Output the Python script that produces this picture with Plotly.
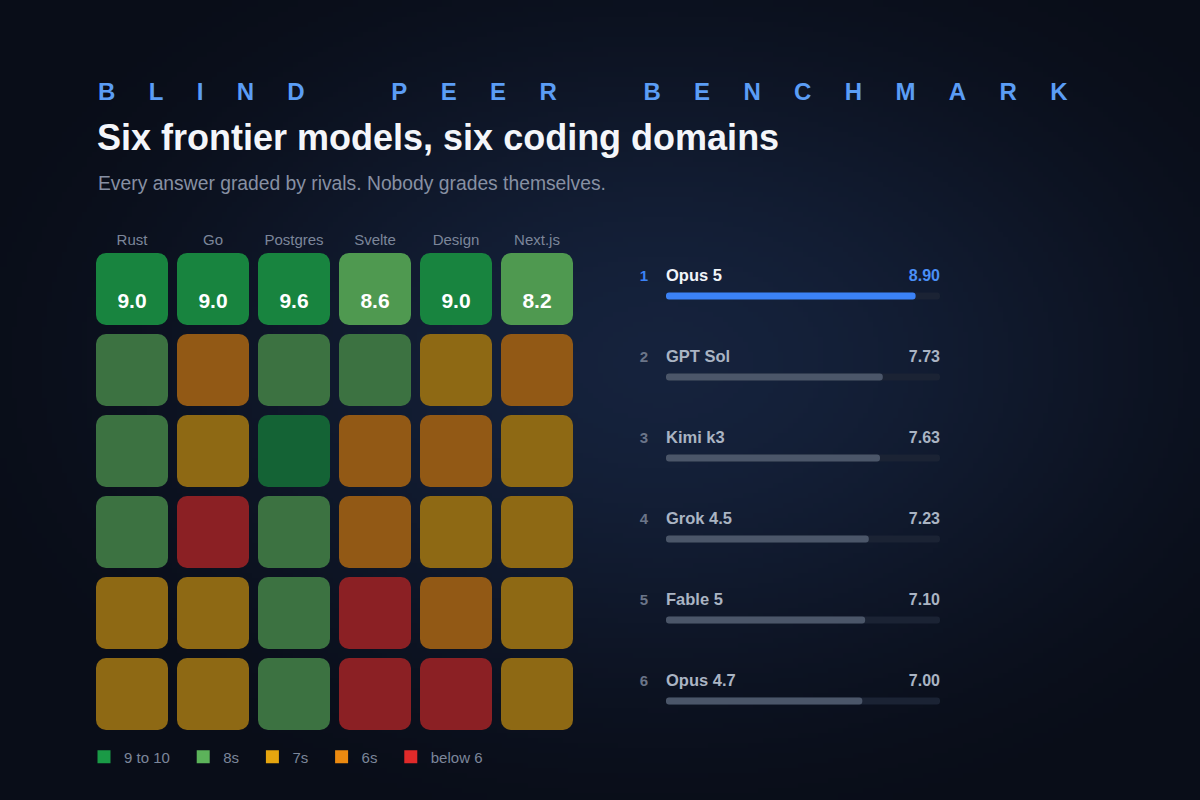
import base64
import struct
import zlib
import plotly.graph_objects as go

# ---------------- data ----------------
DOMAINS = ["Rust", "Go", "Postgres", "Svelte", "Design", "Next.js"]
MODELS = ["Opus 5", "GPT Sol", "Kimi k3", "Grok 4.5", "Fable 5", "Opus 4.7"]
SCORES_OPUS5 = [9.0, 9.0, 9.6, 8.6, 9.0, 8.2]
SCORES_GPTSOL = [8.4, 6.8, 8.6, 8.2, 7.6, 6.8]
SCORES_KIMI = [8.2, 7.4, 9.2, 6.8, 6.6, 7.6]
SCORES_GROK = [8.4, 5.4, 8.2, 6.6, 7.4, 7.4]
SCORES_FABLE = [7.6, 7.4, 8.4, 5.6, 6.6, 7.0]
SCORES_OPUS47 = [7.8, 7.6, 8.6, 5.4, 5.2, 7.4]
SCORES = [SCORES_OPUS5, SCORES_GPTSOL, SCORES_KIMI, SCORES_GROK, SCORES_FABLE, SCORES_OPUS47]
AVERAGES = [8.90, 7.73, 7.63, 7.23, 7.10, 7.00]
RANKS = [1, 2, 3, 4, 5, 6]
BAND_LABELS = ["9 to 10", "8s", "7s", "6s", "below 6"]
BAND_FLOORS = [9, 8, 7, 6, 0]
SCALE_MAX = 9.77

# ---------------- style ----------------
FONT = "Liberation Sans, Arial, Helvetica, sans-serif"
BAND_COLORS = ["#1a9a46", "#5cb35a", "#e5a50f", "#ec8a10", "#e02a2a"]
BG = (12, 16, 28)
MUTED = "#7c869a"


def band(v):
    for i, f in enumerate(BAND_FLOORS):
        if v >= f:
            return i
    return len(BAND_FLOORS) - 1


def blend(hexc, a, bg=BG):
    h = hexc.lstrip("#")
    c = [int(h[i:i + 2], 16) for i in (0, 2, 4)]
    m = [round(b + (x - b) * a) for x, b in zip(c, bg)]
    return "#%02x%02x%02x" % tuple(m)


def make_bg(w=240, h=160):
    edge = (9, 13, 24)
    center = (21, 34, 60)
    cx, cy = 0.55, 0.45
    rows = []
    for j in range(h):
        row = bytearray([0])
        for i in range(w):
            dx = (i / w - cx) / 0.62
            dy = (j / h - cy) / 0.62
            d = min(1.0, (dx * dx + dy * dy) ** 0.5)
            t = 1 - d
            t = t * t * (3 - 2 * t)
            row += bytes(round(e + (c - e) * t) for e, c in zip(edge, center))
        rows.append(bytes(row))
    raw = b"".join(rows)

    def chunk(tag, data):
        return (struct.pack(">I", len(data)) + tag + data
                + struct.pack(">I", zlib.crc32(tag + data) & 0xFFFFFFFF))

    png = (b"\x89PNG\r\n\x1a\n"
           + chunk(b"IHDR", struct.pack(">IIBBBBB", w, h, 8, 2, 0, 0, 0))
           + chunk(b"IDAT", zlib.compress(raw, 9))
           + chunk(b"IEND", b""))
    return "data:image/png;base64," + base64.b64encode(png).decode()


fig = go.Figure()

# ---------------- heatmap of rounded cells ----------------
xs, rows, colors = [], [], []
for r, row in enumerate(SCORES):
    for c, v in enumerate(row):
        xs.append(DOMAINS[c])
        rows.append(r)
        colors.append(blend(BAND_COLORS[band(v)], 0.84 if r == 0 else 0.6))

CELL = 0.889
fig.add_bar(x=xs, y=[CELL] * len(xs), base=[r - CELL / 2 for r in rows],
            width=CELL, marker=dict(color=colors, cornerradius=10, line_width=0),
            xaxis="x", yaxis="y", showlegend=False, hoverinfo="skip")

# values in top row
fig.add_scatter(x=DOMAINS, y=[0 + 0.165] * len(DOMAINS), mode="text",
                text=[f"{v:.1f}" for v in SCORES[0]],
                textfont=dict(family=FONT, size=21, color="#ffffff", weight="bold"),
                xaxis="x", yaxis="y", showlegend=False, hoverinfo="skip", cliponaxis=False)

# legend entries
PAD = "\u00a0\u00a0"
for lab, col in zip(BAND_LABELS, BAND_COLORS):
    fig.add_scatter(x=[None], y=[None], mode="markers", name=lab + PAD,
                    marker=dict(symbol="square", size=13, color=col, line_width=0),
                    xaxis="x", yaxis="y", showlegend=True)

# ---------------- ranking panel ----------------
ry = list(range(len(MODELS)))
BAR_H = 0.088
PPU = 274 / SCALE_MAX  # pixels per score unit
X_LO = -1.0
X_HI = SCALE_MAX + 0.4
fig.add_bar(y=ry, x=[SCALE_MAX] * 6, base=[0] * 6, orientation="h",
            width=BAR_H, marker=dict(color="#1b2334", cornerradius=4, line_width=0),
            xaxis="x2", yaxis="y2", showlegend=False, hoverinfo="skip")
fill_cols = ["#3b82f6" if i == 0 else "#4b5669" for i in ry]
fig.add_bar(y=ry, x=AVERAGES, base=[0] * 6, orientation="h", width=BAR_H,
            marker=dict(color=fill_cols, cornerradius=4, line_width=0),
            xaxis="x2", yaxis="y2", showlegend=False, hoverinfo="skip")

TXT_DY = -0.235
fig.add_scatter(x=[-22 / PPU] * 6, y=[r + TXT_DY for r in ry], mode="text",
                text=[str(k) for k in RANKS], textposition="middle center",
                textfont=dict(family=FONT, size=15, weight="bold",
                              color=["#3b82f6" if i == 0 else "#6b7589" for i in ry]),
                xaxis="x2", yaxis="y2", showlegend=False, hoverinfo="skip", cliponaxis=False)
fig.add_scatter(x=[0] * 6, y=[r + TXT_DY for r in ry], mode="text",
                text=MODELS, textposition="middle right",
                textfont=dict(family=FONT, size=16.5, weight="bold",
                              color=["#f1f5f9" if i == 0 else "#aab4c3" for i in ry]),
                xaxis="x2", yaxis="y2", showlegend=False, hoverinfo="skip", cliponaxis=False)
fig.add_scatter(x=[SCALE_MAX] * 6, y=[r + TXT_DY for r in ry], mode="text",
                text=[f"{v:.2f}" for v in AVERAGES], textposition="middle left",
                textfont=dict(family=FONT, size=16, weight="bold",
                              color=["#4a8ff7" if i == 0 else "#aab4c3" for i in ry]),
                xaxis="x2", yaxis="y2", showlegend=False, hoverinfo="skip", cliponaxis=False)

# ---------------- titles ----------------
NB = "\u00a0"
eyebrow = (NB * 13).join((NB * 5).join(list(w)) for w in ["BLIND", "PEER", "BENCHMARK"])
ann = [
    dict(text=eyebrow, x=96 / 1200, y=1 - 91 / 800, font=dict(family=FONT, size=24, color="#5b9df5", weight="bold")),
    dict(text="Six frontier models, six coding domains", x=95 / 1200, y=1 - 137 / 800,
         font=dict(family=FONT, size=36, color="#f4f6fa", weight="bold")),
    dict(text="Every answer graded by rivals. Nobody grades themselves.", x=96 / 1200, y=1 - 183 / 800,
         font=dict(family=FONT, size=19.3, color="#8790a3")),
]
for a in ann:
    a.update(xref="paper", yref="paper", xanchor="left", yanchor="middle", showarrow=False)

fig.update_layout(
    width=1200, height=800,
    margin=dict(l=0, r=0, t=0, b=0),
    paper_bgcolor="#0c111e", plot_bgcolor="rgba(0,0,0,0)",
    barmode="overlay",
    font=dict(family=FONT, color=MUTED),
    annotations=ann,
    images=[dict(source=make_bg(), xref="paper", yref="paper", x=0, y=1, sizex=1, sizey=1,
                 xanchor="left", yanchor="top", sizing="stretch", layer="below")],
    xaxis=dict(domain=[91.5 / 1200, 577.5 / 1200], type="category", categoryorder="array",
               categoryarray=DOMAINS, range=[-0.5, 5.5], side="top", showgrid=False,
               zeroline=False, showline=False, ticks="", tickfont=dict(family=FONT, size=15, color=MUTED),
               fixedrange=True, anchor="y"),
    yaxis=dict(domain=[1 - 734.5 / 800, 1 - 248.5 / 800], range=[5.5, -0.5], visible=False,
               fixedrange=True, anchor="x"),
    xaxis2=dict(domain=[(666 + X_LO * PPU) / 1200, (666 + X_HI * PPU) / 1200], range=[X_LO, X_HI],
                visible=False, fixedrange=True, anchor="y2"),
    yaxis2=dict(domain=[1 - 741.5 / 800, 1 - 255.5 / 800], range=[5.5, -0.5], visible=False,
                fixedrange=True, anchor="x2"),
    legend=dict(orientation="h", x=84 / 1200, y=1 - 757 / 800, xanchor="left", yanchor="middle",
                font=dict(family=FONT, size=15, color=MUTED), bgcolor="rgba(0,0,0,0)",
                itemclick=False, itemdoubleclick=False),
    showlegend=True,
)

fig.write_html("out.html", config={"displayModeBar": False, "responsive": False},
               post_script="document.body.style.margin='0';")
